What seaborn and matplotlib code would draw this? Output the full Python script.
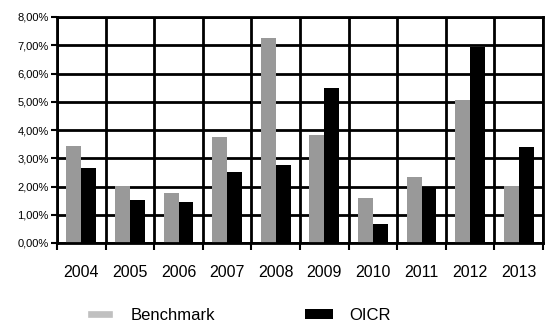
import matplotlib.pyplot as plt
from matplotlib.patches import Patch
from matplotlib.ticker import FixedLocator, FuncFormatter
import seaborn as sns
import pandas as pd

years = ['2004', '2005', '2006', '2007', '2008', '2009', '2010', '2011', '2012', '2013']
benchmark = [3.42, 2.01, 1.77, 3.75, 7.27, 3.83, 1.60, 2.34, 5.06, 2.01]
oicr = [2.67, 1.52, 1.44, 2.52, 2.75, 5.47, 0.69, 1.94, 6.94, 3.41]
series = ['Benchmark', 'OICR']
bar_colors = ['#999999', '#000000']
legend_colors = ['#c0c0c0', '#000000']

df = pd.DataFrame({
    'year': years * 2,
    'value': benchmark + oicr,
    'series': [series[0]] * len(years) + [series[1]] * len(years),
})

sns.set_style('white')
plt.rcParams['font.family'] = ['Liberation Sans', 'DejaVu Sans']
plt.rcParams['text.color'] = 'black'
plt.rcParams['xtick.labelcolor'] = 'black'
plt.rcParams['ytick.labelcolor'] = 'black'

fig = plt.figure(figsize=(5.45, 3.24), dpi=100)
ax = fig.add_axes([57 / 545, 1 - 243 / 324, 486 / 545, 226 / 324])

sns.barplot(data=df, x='year', y='value', hue='series', palette=bar_colors,
            width=0.61, ax=ax, legend=False, saturation=1, linewidth=0)

ax.set_ylim(0, 8)
ax.set_xlim(-0.5, len(years) - 0.5)
ax.set_yticks(range(0, 9))
ax.yaxis.set_major_formatter(FuncFormatter(lambda v, p: f'{v:.2f}%'.replace('.', ',')))
ax.tick_params(axis='y', labelsize=8, length=4, width=1.5, color='black', pad=2,
               direction='out', left=True, labelcolor='black')

# category boundaries for vertical grid + ticks
ax.xaxis.set_minor_locator(FixedLocator([i - 0.5 for i in range(len(years) + 1)]))
ax.tick_params(axis='x', which='minor', length=5, width=1.5, color='black', bottom=True)
ax.tick_params(axis='x', which='major', length=0, labelsize=11.5, pad=16, labelcolor='black')
ax.grid(True, which='minor', axis='x', color='black', linewidth=2)
ax.grid(True, which='major', axis='y', color='black', linewidth=2)
ax.set_axisbelow(True)
for s in ax.spines.values():
    s.set_color('black')
    s.set_linewidth(2)
ax.set_xlabel('')
ax.set_ylabel('')

# benchmark swatch is thinner in the reference: white edge trims it
handles = [Patch(facecolor=legend_colors[0], edgecolor='white', linewidth=2.4),
           Patch(facecolor=legend_colors[1], edgecolor='none')]
fig.legend(handles, series, loc='center left', bbox_to_anchor=(86 / 545, 0.026), ncol=2,
           frameon=False, fontsize=12, handlelength=1.7, handleheight=0.6,
           columnspacing=5.4, handletextpad=0.95, borderpad=0, borderaxespad=0,
           labelcolor='black')

fig.savefig('out.png', dpi=100)
